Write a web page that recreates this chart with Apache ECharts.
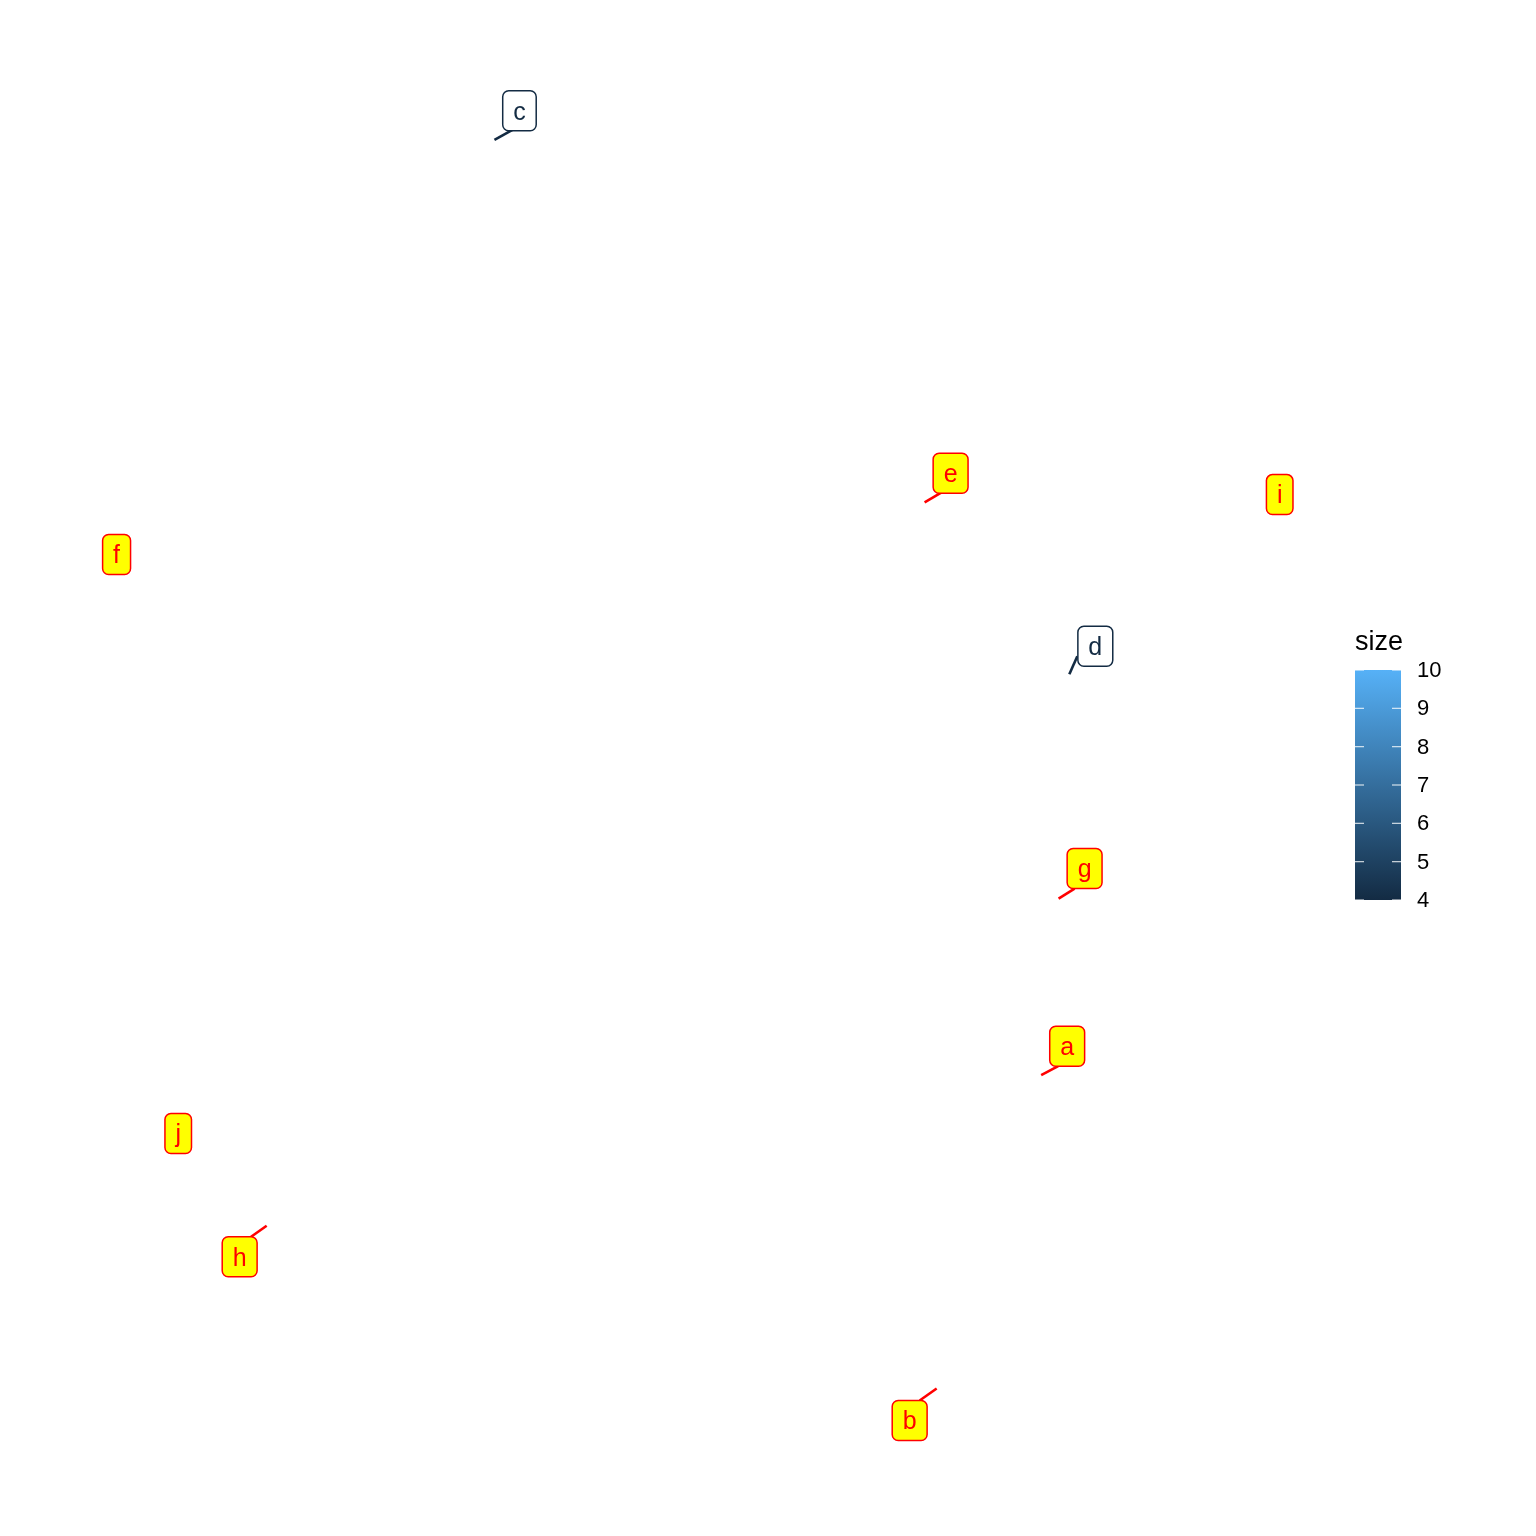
<!DOCTYPE html>
<html>
<head>
<meta charset="utf-8">
<script src="https://cdn.jsdelivr.net/npm/echarts@6/dist/echarts.min.js"></script>
<style>html,body{margin:0;padding:0;background:#fff;}#chart{width:1536px;height:1536px;}</style>
</head>
<body>
<div id="chart"></div>
<script>
// ---- data ----
const labels = ['a','b','c','d','e','f','g','h','i','j'];
const xValues = [77.7, 69.9, 36.9, 79.8, 69.0, 8.7, 79.0, 19.9, 95.5, 13.3];
const yValues = [30.0, 9.6, 90.9, 56.1, 67.3, 63.9, 41.5, 20.2, 67.8, 26.2];
// labels mapped to the size colour scale (others are highlighted yellow/red)
const sizeMapped = ['c','d'];
const sizeValues = {c: 4, d: 4};
const legendTicks = [4,5,6,7,8,9,10];

// ---- layout (repel offsets, px): label centre offset from point, segment end offset from label centre ----
const labelOffsets = {
  a:[26,-29], b:[-27,32], c:[25,-29], d:[26,-28], e:[26,-29],
  f:[0,0], g:[26,-30], h:[-27,31], i:[0,0], j:[0,0]
};
const segmentEnds = {
  a:[-9,20], b:[10,-20], c:[-7,19], d:[-18,10], e:[-9,19],
  g:[-10,20], h:[10,-19]
};

const lowColor = [0x13,0x2B,0x43], highColor = [0x56,0xB1,0xF7];
function sizeColor(v){
  const t = (v - 4) / (10 - 4);
  const c = lowColor.map((l,i)=>Math.round(l + (highColor[i]-l)*t));
  return 'rgb(' + c.join(',') + ')';
}

const chart = echarts.init(document.getElementById('chart'));

const seriesData = labels.map((lab, i) => [xValues[i], yValues[i], i]);

// legend geometry
const barX = 1355, barTop = 670, barH = 230, barW = 46;
const vToY = v => barTop + barH * (10 - v) / 6;

const graphics = [
  { type:'text', x: 1355, y: 643, style:{ text:'size', fontSize: 27, fill:'#000', fontFamily:'Liberation Sans, Arial', textVerticalAlign:'middle' } },
  { type:'rect', shape:{ x: barX, y: barTop, width: barW, height: barH },
    style:{ fill: new echarts.graphic.LinearGradient(0,0,0,1,[
      {offset:0,color:sizeColor(10)},{offset:1,color:sizeColor(4)}]) } }
];
legendTicks.forEach(v => {
  const y = vToY(v);
  graphics.push({ type:'line', shape:{x1:barX, y1:y, x2:barX+9, y2:y}, style:{stroke:'#ffffff', lineWidth:1.2, opacity:0.8} });
  graphics.push({ type:'line', shape:{x1:barX+barW-9, y1:y, x2:barX+barW, y2:y}, style:{stroke:'#ffffff', lineWidth:1.2, opacity:0.8} });
  graphics.push({ type:'text', x: 1417, y: y + 1, style:{ text:String(v), fontSize: 22, fill:'#000', fontFamily:'Liberation Sans, Arial', textVerticalAlign:'middle' } });
});

const FONT = '25px "Liberation Sans", Arial';
function textWidth(t) {
  return echarts.format.getTextRect ? echarts.format.getTextRect(t, FONT).width : t.length * 13;
}

function renderItem(params, api) {
  const idx = api.value(2);
  const lab = labels[idx];
  const pt = api.coord([api.value(0), api.value(1)]);
  const off = labelOffsets[lab];
  const cx = pt[0] + off[0], cy = pt[1] + off[1];
  const mapped = sizeMapped.includes(lab);
  const col = mapped ? sizeColor(sizeValues[lab]) : '#FF0000';
  const children = [];
  if (segmentEnds[lab]) {
    const se = segmentEnds[lab];
    children.push({
      type: 'line',
      shape: { x1: pt[0], y1: pt[1], x2: cx + se[0], y2: cy + se[1] },
      style: { stroke: col, lineWidth: 2.6, lineCap: 'butt' },
      z2: 1
    });
  }
  let tw = 13;
  try { tw = echarts.format.getTextRect(lab, FONT).width; } catch (e) {}
  const bw = tw + 21, bh = 40;
  children.push({
    type: 'rect',
    shape: { x: cx - bw / 2, y: cy - bh / 2, width: bw, height: bh, r: 6 },
    style: { fill: mapped ? '#FFFFFF' : '#FFFF00', stroke: col, lineWidth: 1.5 },
    z2: 2
  });
  children.push({
    type: 'text',
    x: cx, y: cy + 2,
    z2: 3,
    style: {
      text: lab,
      fontSize: 25,
      fontFamily: 'Liberation Sans, Arial',
      fill: col,
      align: 'center',
      verticalAlign: 'middle'
    }
  });
  return { type: 'group', children: children };
}

chart.setOption({
  backgroundColor: '#ffffff',
  animation: false,
  grid: { left: 0, top: 0, width: 1340, height: 1536 },
  xAxis: { type:'value', min:0, max:100, show:false },
  yAxis: { type:'value', min:0, max:100, show:false },
  graphic: graphics,
  series: [{
    type: 'custom',
    renderItem: renderItem,
    data: seriesData,
    encode: { x: 0, y: 1 },
    clip: false
  }]
});
</script>
</body>
</html>
